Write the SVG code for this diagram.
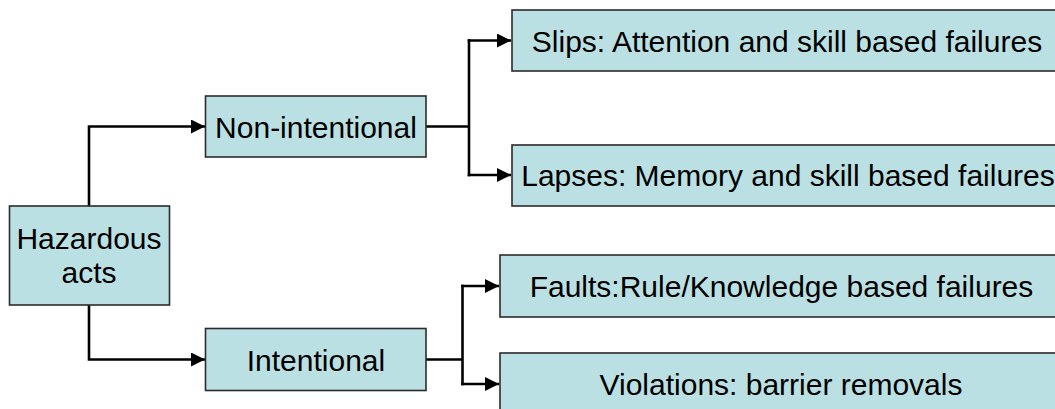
<svg xmlns="http://www.w3.org/2000/svg" width="1055" height="409" viewBox="0 0 1055 409">
  <style>
    .box { fill: #BBE0E3; stroke: #2b2b2b; stroke-width: 1.6; }
    .lbl { font-family: "Liberation Sans", Arial, sans-serif; font-size: 30px; fill: #000; text-anchor: middle; }
    .wire { fill: none; stroke: #000; stroke-width: 2.6; }
  </style>
  <defs>
    <marker id="arrow" markerUnits="userSpaceOnUse" markerWidth="14" markerHeight="14" viewBox="0 0 14 14" refX="14" refY="7" orient="auto">
      <path d="M0,0 L14,7 L0,14 Z" fill="#000"/>
    </marker>
  </defs>

  <rect width="1055" height="409" fill="#fff"/>

  <!-- connectors: elbow lines with filled arrowheads -->
  <g id="connectors">
    <polyline class="wire" points="89,206 89,126.5 205,126.5" marker-end="url(#arrow)"/>
    <polyline class="wire" points="89,305 89,359.5 205,359.5" marker-end="url(#arrow)"/>

    <line class="wire" x1="426" y1="126.5" x2="469" y2="126.5"/>
    <line class="wire" x1="469" y1="39.2" x2="469" y2="176.3"/>
    <line class="wire" x1="467.7" y1="40.5" x2="511" y2="40.5" marker-end="url(#arrow)"/>
    <line class="wire" x1="467.7" y1="175" x2="511" y2="175" marker-end="url(#arrow)"/>

    <line class="wire" x1="426" y1="359.5" x2="462.5" y2="359.5"/>
    <line class="wire" x1="462.5" y1="284.7" x2="462.5" y2="385.3"/>
    <line class="wire" x1="461.2" y1="286" x2="499" y2="286" marker-end="url(#arrow)"/>
    <line class="wire" x1="461.2" y1="384" x2="499" y2="384" marker-end="url(#arrow)"/>
  </g>

  <g id="hazardous-acts">
    <rect class="box" x="9.5" y="206" width="160" height="99"/>
    <text class="lbl" x="89" y="249">Hazardous</text>
    <text class="lbl" x="89" y="283">acts</text>
  </g>

  <g id="non-intentional">
    <rect class="box" x="205.5" y="96" width="220.5" height="61"/>
    <text class="lbl" x="316" y="137.5">Non-intentional</text>
  </g>

  <g id="intentional">
    <rect class="box" x="205.5" y="328.5" width="220.5" height="62"/>
    <text class="lbl" x="316" y="370.5">Intentional</text>
  </g>

  <g id="slips">
    <rect class="box" x="512" y="10" width="550" height="61"/>
    <text class="lbl" x="787" y="51.5">Slips: Attention and skill based failures</text>
  </g>

  <g id="lapses">
    <rect class="box" x="512" y="145" width="550" height="61"/>
    <text class="lbl" x="788" y="186">Lapses: Memory and skill based failures</text>
  </g>

  <g id="faults">
    <rect class="box" x="500" y="255" width="562" height="62"/>
    <text class="lbl" x="781.5" y="296.5">Faults:Rule/Knowledge based failures</text>
  </g>

  <g id="violations">
    <rect class="box" x="500" y="353" width="562" height="62"/>
    <text class="lbl" x="781" y="394.5">Violations: barrier removals</text>
  </g>
</svg>
